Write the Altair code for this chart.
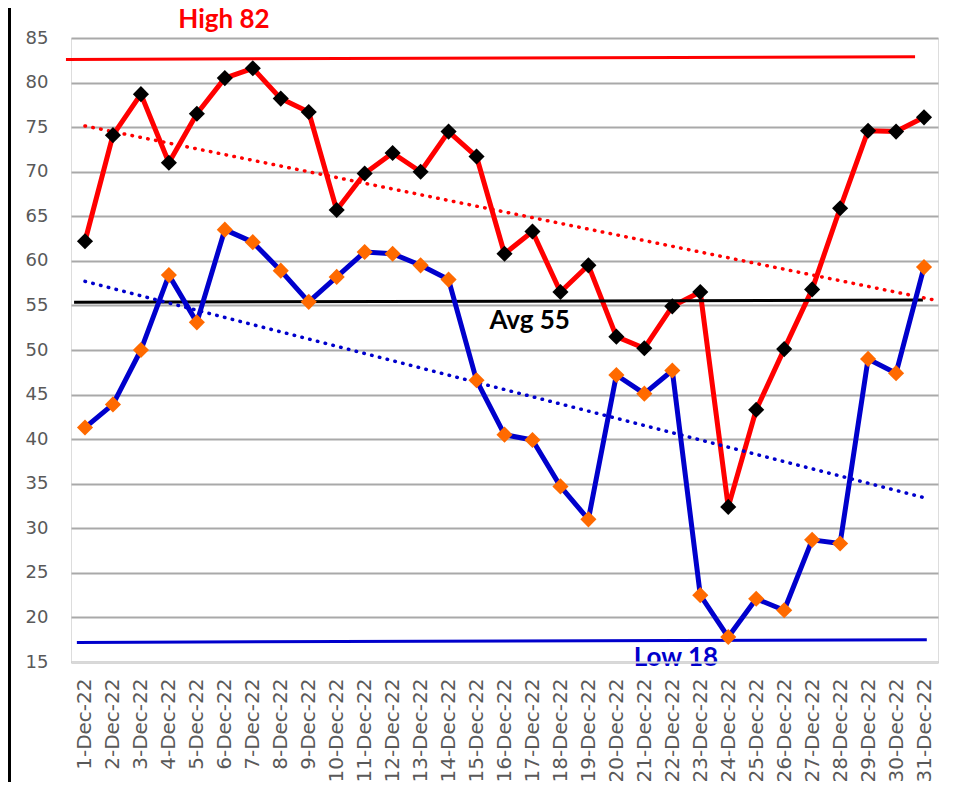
import json
import altair as alt
import pandas as pd

# ---------------- data ----------------
days = list(range(1, 32))
day_labels = [
    "1-Dec-22", "2-Dec-22", "3-Dec-22", "4-Dec-22", "5-Dec-22", "6-Dec-22",
    "7-Dec-22", "8-Dec-22", "9-Dec-22", "10-Dec-22", "11-Dec-22", "12-Dec-22",
    "13-Dec-22", "14-Dec-22", "15-Dec-22", "16-Dec-22", "17-Dec-22", "18-Dec-22",
    "19-Dec-22", "20-Dec-22", "21-Dec-22", "22-Dec-22", "23-Dec-22", "24-Dec-22",
    "25-Dec-22", "26-Dec-22", "27-Dec-22", "28-Dec-22", "29-Dec-22", "30-Dec-22",
    "31-Dec-22",
]
high_temps = [62.2, 74.1, 78.7, 71.0, 76.5, 80.5, 81.6, 78.2, 76.7, 65.7,
              69.8, 72.1, 70.0, 74.5, 71.7, 60.8, 63.3, 56.5, 59.5, 51.5,
              50.2, 54.9, 56.5, 32.4, 43.3, 50.1, 56.8, 65.9, 74.6, 74.5, 76.1]
low_temps = [41.3, 43.9, 50.0, 58.4, 53.1, 63.5, 62.1, 58.9, 55.4, 58.2,
             61.0, 60.8, 59.5, 57.9, 46.6, 40.5, 39.9, 34.7, 31.0, 47.2,
             45.1, 47.7, 22.5, 17.8, 22.1, 20.8, 28.7, 28.3, 49.0, 47.4, 59.3]

ref_names = ["High 82", "Avg 55", "Low 18"]
ref_colors = ["#ff0000", "#000000", "#0000cc"]
ref_start_day = [0.32, 0.61, 0.71]
ref_end_day = [30.68, 30.96, 31.1]
ref_start_val = [82.6, 55.35, 17.2]
ref_end_val = [82.9, 55.6, 17.5]
ref_label_day = [5.97, 16.9, 22.13]
ref_label_val = [86.1, 52.32, 14.55]   # text baselines

y_ticks = [15, 20, 25, 30, 35, 40, 45, 50, 55, 60, 65, 70, 75, 80, 85]

AX_FONT = "DejaVu Sans"
LBL_FONT = "Lato"

# ---------------- tables ----------------
series_df = pd.DataFrame({"day": days, "label": day_labels,
                          "high": high_temps, "low": low_temps})
high_df = series_df[["day", "high"]].rename(columns={"high": "temp"})
low_df = series_df[["day", "low"]].rename(columns={"low": "temp"})

ref_rows = []
for n, d0, d1, v0, v1 in zip(ref_names, ref_start_day, ref_end_day, ref_start_val, ref_end_val):
    ref_rows.append({"name": n, "day": d0, "temp": v0})
    ref_rows.append({"name": n, "day": d1, "temp": v1})
ref_df = pd.DataFrame(ref_rows)
lab_df = pd.DataFrame({"name": ref_names, "day": ref_label_day, "temp": ref_label_val})

x_enc = alt.X(
    "day:Q",
    scale=alt.Scale(domain=[0.5, 31.5], nice=False, zero=False),
    axis=alt.Axis(
        values=days,
        tickCount=len(days),
        labelExpr=json.dumps(day_labels) + "[datum.value - 1]",
        labelAngle=270,
        grid=False,
        ticks=False,
        tickSize=0,
        labelPadding=16,
        domainColor="#d9d9d9",
        domainWidth=2,
        labelFontSize=20,
        labelColor="#595959",
        labelFont=AX_FONT,
        labelOverlap=False,
        labelFlush=False,
        labelBound=False,
        title=None,
        zindex=1,
    ),
)
y_enc = alt.Y(
    "temp:Q",
    scale=alt.Scale(domain=[15, 85], nice=False, zero=False),
    axis=alt.Axis(
        values=y_ticks,
        tickCount=len(y_ticks),
        grid=True,
        gridColor="#a9a9a9",
        gridWidth=2,
        ticks=False,
        tickSize=0,
        domain=False,
        labelPadding=23,
        labelFontSize=18,
        labelColor="#595959",
        labelFont=AX_FONT,
        labelOverlap=False,
        title=None,
    ),
)
color_scale = alt.Scale(domain=ref_names, range=ref_colors)

ref_lines = alt.Chart(ref_df).mark_line(strokeWidth=3).encode(
    x=alt.X("day:Q"), y=alt.Y("temp:Q"),
    color=alt.Color("name:N", scale=color_scale, legend=None),
    detail="name:N",
)

dots = dict(strokeWidth=3.5, strokeDash=[0.5, 7.5], strokeCap="round")
red_trend = alt.Chart(high_df).transform_regression(
    "day", "temp", extent=[1, 31.5]
).mark_line(color="#ff0000", **dots).encode(x="day:Q", y="temp:Q")
blue_trend = alt.Chart(low_df).transform_regression(
    "day", "temp", extent=[1, 31]
).mark_line(color="#0000cc", **dots).encode(x="day:Q", y="temp:Q")

high_line = alt.Chart(high_df).mark_line(color="#ff0000", strokeWidth=5, strokeJoin="round").encode(
    x=x_enc, y=y_enc
)
low_line = alt.Chart(low_df).mark_line(color="#0000cc", strokeWidth=5, strokeJoin="round").encode(
    x="day:Q", y="temp:Q"
)
high_pts = alt.Chart(high_df).mark_point(shape="diamond", filled=True, size=260, color="#000000", opacity=1).encode(
    x="day:Q", y="temp:Q"
)
low_pts = alt.Chart(low_df).mark_point(shape="diamond", filled=True, size=260, color="#ff6a00", opacity=1).encode(
    x="day:Q", y="temp:Q"
)

labels = alt.Chart(lab_df).mark_text(
    font=LBL_FONT, fontSize=26, fontWeight="bold", align="center", baseline="alphabetic"
).encode(
    x="day:Q", y="temp:Q", text="name:N",
    color=alt.Color("name:N", scale=color_scale, legend=None),
)

border = alt.Chart(pd.DataFrame({"k": [0]})).mark_rule(color="#000000", strokeWidth=3).encode(
    x=alt.value(-61.5), y=alt.value(-30), y2=alt.value(744)
)

chart = alt.layer(
    high_line, ref_lines, red_trend, blue_trend, low_line, high_pts, low_pts, labels, border
).properties(
    width=867,
    height=624,
    padding={"left": 63, "top": 30, "right": 8, "bottom": 120},
    autosize=alt.AutoSizeParams(type="none"),
).configure_view(stroke=None).configure_axis(labelOverlap=False).configure(background="white")

chart.save("out.html", embed_options={"renderer": "svg", "actions": False})
